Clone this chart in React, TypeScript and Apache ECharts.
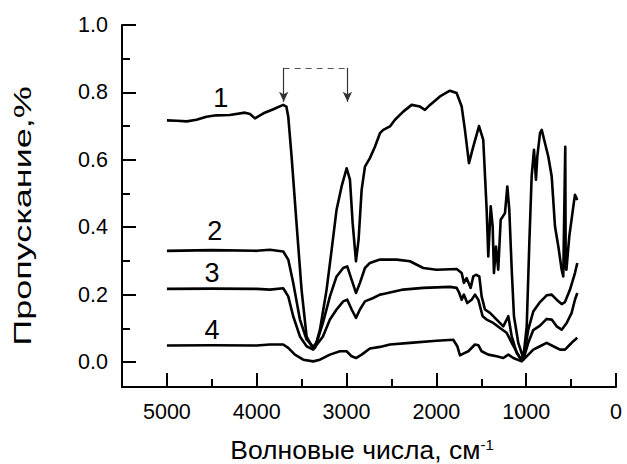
import React, { useEffect, useRef } from "react";
import * as echarts from "echarts";

// Wavenumbers (cm^-1) and transmittance for each spectrum
const wn1 = [5000, 4890, 4780, 4670, 4560, 4450, 4300, 4130, 4075, 4020, 3925, 3815, 3705, 3670, 3649, 3612, 3557, 3501, 3445, 3389, 3352, 3296, 3222, 3166, 3111, 3055, 2999, 2962, 2932, 2895, 2866, 2832, 2795, 2740, 2684, 2628, 2591, 2517, 2461, 2369, 2275, 2183, 2127, 2071, 1960, 1849, 1774, 1718, 1682, 1637, 1589, 1525, 1478, 1440, 1422, 1395, 1373, 1359, 1336, 1311, 1284, 1236, 1210, 1188, 1161, 1136, 1088, 1032, 994, 965, 939, 913, 891, 876, 846, 827, 791, 754, 716, 679, 642, 605, 587, 565, 560, 552, 520, 475, 457, 431];
const t1 = [0.717, 0.716, 0.714, 0.719, 0.728, 0.732, 0.733, 0.74, 0.736, 0.723, 0.738, 0.75, 0.763, 0.758, 0.728, 0.61, 0.412, 0.215, 0.076, 0.047, 0.042, 0.096, 0.215, 0.333, 0.452, 0.521, 0.575, 0.541, 0.412, 0.299, 0.363, 0.511, 0.58, 0.605, 0.639, 0.679, 0.689, 0.699, 0.719, 0.743, 0.763, 0.758, 0.748, 0.763, 0.788, 0.805, 0.798, 0.758, 0.689, 0.59, 0.639, 0.7, 0.659, 0.452, 0.313, 0.462, 0.402, 0.264, 0.343, 0.274, 0.422, 0.442, 0.521, 0.452, 0.274, 0.136, 0.057, 0.012, 0.106, 0.353, 0.551, 0.63, 0.541, 0.61, 0.679, 0.689, 0.65, 0.61, 0.551, 0.402, 0.343, 0.274, 0.254, 0.639, 0.28, 0.274, 0.373, 0.462, 0.496, 0.481];

const wn2 = [5000, 4500, 4000, 3853, 3705, 3649, 3594, 3519, 3445, 3370, 3330, 3263, 3185, 3111, 3037, 2992, 2943, 2895, 2851, 2795, 2740, 2628, 2442, 2294, 2146, 1997, 1774, 1718, 1693, 1663, 1618, 1589, 1559, 1522, 1496, 1459, 1403, 1329, 1255, 1199, 1161, 1106, 1050, 1013, 977, 921, 846, 772, 716, 661, 605, 568, 512, 457, 431];
const t2 = [0.33, 0.332, 0.33, 0.333, 0.328, 0.304, 0.235, 0.126, 0.067, 0.045, 0.06, 0.116, 0.195, 0.254, 0.279, 0.284, 0.244, 0.205, 0.235, 0.279, 0.294, 0.304, 0.304, 0.299, 0.279, 0.274, 0.276, 0.264, 0.235, 0.249, 0.22, 0.254, 0.259, 0.254, 0.195, 0.156, 0.146, 0.126, 0.106, 0.136, 0.076, 0.027, 0.007, 0.037, 0.096, 0.15, 0.178, 0.198, 0.2, 0.185, 0.172, 0.178, 0.215, 0.264, 0.294];

const wn3 = [5000, 4500, 4000, 3853, 3705, 3649, 3594, 3519, 3445, 3371, 3263, 3185, 3111, 3037, 2992, 2943, 2895, 2851, 2795, 2703, 2628, 2591, 2369, 2146, 1849, 1774, 1745, 1718, 1693, 1656, 1607, 1570, 1533, 1485, 1440, 1366, 1292, 1218, 1161, 1069, 1032, 977, 921, 846, 772, 716, 661, 605, 549, 494, 457, 431];
const t3 = [0.217, 0.218, 0.217, 0.215, 0.219, 0.195, 0.136, 0.076, 0.047, 0.037, 0.076, 0.126, 0.156, 0.18, 0.185, 0.156, 0.131, 0.156, 0.18, 0.19, 0.2, 0.202, 0.215, 0.22, 0.223, 0.22, 0.205, 0.185, 0.2, 0.175, 0.185, 0.2, 0.185, 0.136, 0.126, 0.116, 0.101, 0.087, 0.057, 0.012, 0.007, 0.057, 0.095, 0.108, 0.128, 0.126, 0.106, 0.096, 0.116, 0.146, 0.185, 0.205];

const wn4 = [5000, 4500, 4000, 3853, 3705, 3649, 3575, 3482, 3371, 3296, 3185, 3074, 2999, 2943, 2895, 2832, 2740, 2628, 2517, 2294, 1997, 1812, 1767, 1737, 1700, 1644, 1570, 1533, 1496, 1422, 1329, 1255, 1199, 1143, 1050, 994, 921, 846, 772, 698, 623, 568, 512, 475, 431];
const t4 = [0.049, 0.05, 0.049, 0.052, 0.052, 0.042, 0.022, 0.007, 0.002, 0.007, 0.022, 0.032, 0.032, 0.017, 0.012, 0.022, 0.04, 0.045, 0.052, 0.057, 0.063, 0.066, 0.047, 0.02, 0.025, 0.032, 0.052, 0.05, 0.032, 0.022, 0.017, 0.012, 0.022, 0.012, 0.002, 0.017, 0.037, 0.047, 0.057, 0.047, 0.037, 0.037, 0.052, 0.062, 0.072];

// Curve numbers and where they sit
const curveNames = ["1", "2", "3", "4"];
const nameWn = [4400, 4466, 4499, 4499];
const nameT = [0.784, 0.39, 0.265, 0.096];

// Bracket with two arrows over the O–H and C–H bands
const arrowWn = [3700, 2990];
const arrowTop = 0.873;
const arrowTip = 0.772;

// Axis ticks
const xMajor = [0, 1000, 2000, 3000, 4000, 5000];
const xMinor = [500, 1500, 2500, 3500, 4500];
const yMajor = [0, 0.2, 0.4, 0.6, 0.8, 1.0];
const yMinor = [0.1, 0.3, 0.5, 0.7, 0.9];

const FONT = "'Liberation Sans', Arial, sans-serif";

const zip = (xs: number[], ys: number[]) => xs.map((x, i) => [x, ys[i]]);

export default function App() {
  const ref = useRef<HTMLDivElement>(null);

  useEffect(() => {
    if (!ref.current) return;
    const chart = echarts.init(ref.current, undefined, { renderer: "svg" });

    const axisLine = { show: true, onZero: false, lineStyle: { color: "#000", width: 2 } };
    const tickStyle = { color: "#000", width: 2 };

    const spectrum = (wn: number[], t: number[]) => ({
      type: "line",
      data: zip(wn, t),
      showSymbol: false,
      symbol: "none",
      silent: true,
      lineStyle: { color: "#000", width: 2.6, join: "round" },
    });

    chart.setOption({
      animation: false,
      backgroundColor: "#fff",
      grid: { left: 122, right: 11, top: 25, bottom: 77, containLabel: false },
      xAxis: [
        {
          type: "value",
          inverse: true,
          min: 0,
          max: 5500,
          axisLine,
          axisTick: { show: true, inside: true, length: 14, lineStyle: tickStyle, customValues: xMajor },
          axisLabel: {
            customValues: xMajor,
            formatter: (v: number) => String(v),
            fontSize: 21.5,
            fontFamily: FONT,
            color: "#000",
            margin: 14,
          },
          splitLine: { show: false },
        },
        {
          type: "value",
          inverse: true,
          min: 0,
          max: 5500,
          position: "bottom",
          axisLine: { show: false, onZero: false },
          axisTick: { show: true, inside: true, length: 8, lineStyle: tickStyle, customValues: xMinor },
          axisLabel: { show: false },
          splitLine: { show: false },
        },
      ],
      yAxis: [
        {
          type: "value",
          min: -0.074,
          max: 1.0,
          position: "left",
          axisLine,
          axisTick: { show: true, inside: true, length: 14, lineStyle: tickStyle, customValues: yMajor },
          axisLabel: {
            customValues: yMajor,
            formatter: (v: number) => v.toFixed(1),
            fontSize: 21.5,
            fontFamily: FONT,
            color: "#000",
            margin: 14,
          },
          splitLine: { show: false },
        },
        {
          type: "value",
          min: -0.074,
          max: 1.0,
          position: "left",
          axisLine: { show: false, onZero: false },
          axisTick: { show: true, inside: true, length: 8, lineStyle: tickStyle, customValues: yMinor },
          axisLabel: { show: false },
          splitLine: { show: false },
        },
      ],
      series: [
        spectrum(wn1, t1),
        spectrum(wn2, t2),
        spectrum(wn3, t3),
        spectrum(wn4, t4),
        {
          type: "scatter",
          data: curveNames.map((n, i) => [nameWn[i], nameT[i], n]),
          symbolSize: 1,
          itemStyle: { color: "rgba(0,0,0,0)" },
          silent: true,
          label: {
            show: true,
            position: "inside",
            formatter: (p: any) => p.value[2],
            fontSize: 27,
            fontFamily: FONT,
            color: "#000",
            opacity: 1,
            textBorderWidth: 0,
          },
        },
        {
          type: "line",
          data: [],
          silent: true,
          markLine: {
            silent: true,
            animation: false,
            label: { show: false },
            symbolSize: [7, 10],
            lineStyle: { color: "#333", width: 1.2, type: "solid" },
            data: arrowWn.map((w) => [
              { coord: [w, arrowTop], symbol: "none" },
              { coord: [w, arrowTip], symbol: "arrow" },
            ]),
          },
        },
        {
          type: "line",
          data: [],
          silent: true,
          markLine: {
            silent: true,
            animation: false,
            label: { show: false },
            symbol: ["none", "none"],
            lineStyle: { color: "#555", width: 1.2, type: [6, 5] },
            data: [[{ coord: [arrowWn[0], arrowTop] }, { coord: [arrowWn[1], arrowTop] }]],
          },
        },
      ],
      graphic: [
        {
          type: "text",
          x: 22,
          y: 216,
          rotation: Math.PI / 2,
          scaleX: 1.5,
          style: {
            text: "Пропускание,%",
            font: `24px ${FONT}`,
            fill: "#000",
            textAlign: "center",
            textVerticalAlign: "middle",
          },
        },
        {
          type: "text",
          x: 362,
          y: 450,
          style: {
            text: "{a|Волновые числа, см}{s|-1}",
            textAlign: "center",
            textVerticalAlign: "middle",
            rich: {
              a: { fontSize: 26.5, fontFamily: FONT, fill: "#000" },
              s: { fontSize: 15, fontFamily: FONT, fill: "#000", verticalAlign: "top" },
            },
          },
        },
      ],
    });

    return () => chart.dispose();
  }, []);

  return (
    <div
      ref={ref}
      style={{ position: "fixed", left: 0, top: 0, width: 627, height: 464, background: "#fff" }}
    />
  );
}
